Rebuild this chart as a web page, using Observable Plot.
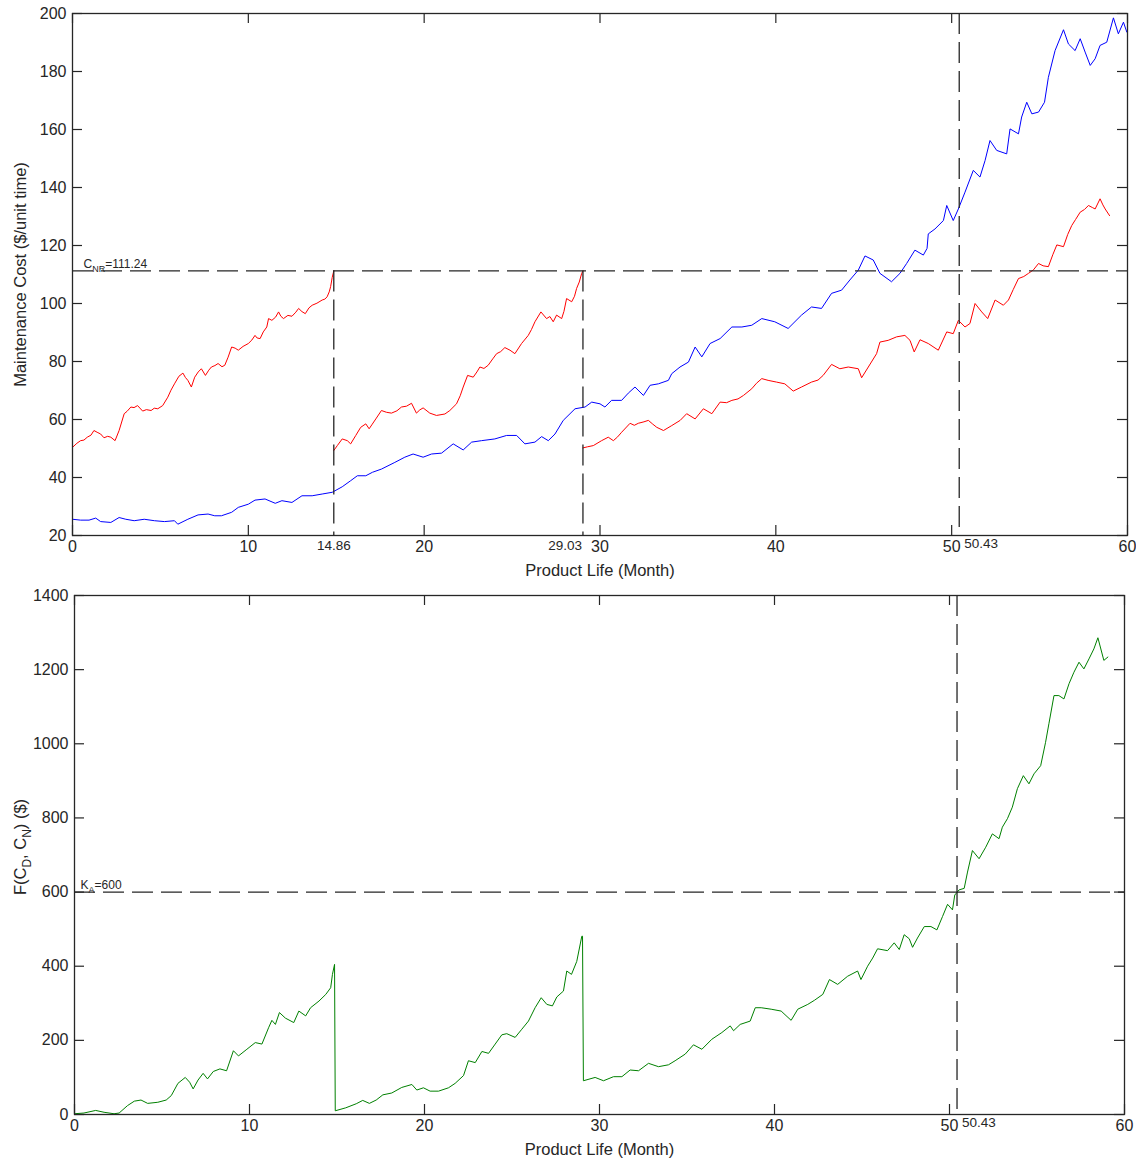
<!DOCTYPE html>
<html>
<head>
<meta charset="utf-8">
<script src="https://cdn.jsdelivr.net/npm/d3@7"></script>
<script src="https://cdn.jsdelivr.net/npm/@observablehq/plot@0.6"></script>
<style>
  html, body { margin: 0; padding: 0; background: #fff; }
  #chart svg { display: block; }
</style>
</head>
<body>
<div id="chart"></div>
<script>
// ---------- data ----------
const xTicks = [0, 10, 20, 30, 40, 50, 60];
const costTicks = [20, 40, 60, 80, 100, 120, 140, 160, 180, 200];
const fTicks = [0, 200, 400, 600, 800, 1000, 1200, 1400];
const renewalMonths = [14.86, 29.03];
const stopMonth = 50.43;
const costThreshold = 111.24;
const kA = 600;
const xLabel = "Product Life (Month)";
const costLabel = "Maintenance Cost ($/unit time)";
const fLabel = "F(C_D, C_N) ($)";
const cLabel = "C_NR=111.24";
const kLabel = "K_A=600";

// red: cost of the current (renewed) unit, three segments
const redSeg1 = [[0,50.4],[0.25,51.8],[0.46,52.7],[0.65,52.9],[0.84,53.9],[1.05,54.6],[1.22,56.2],[1.4,55.6],[1.6,55.0],[1.79,53.7],[2.0,54.2],[2.18,53.9],[2.42,52.7],[2.65,56.2],[2.94,62.0],[3.1,62.8],[3.32,64.3],[3.5,64.1],[3.7,64.8],[3.99,62.9],[4.2,63.4],[4.47,63.1],[4.65,63.9],[4.85,63.7],[5.13,64.8],[5.42,67.7],[5.6,70.1],[5.8,72.3],[6.05,74.9],[6.28,76.0],[6.42,74.5],[6.56,73.5],[6.76,71.2],[6.95,74.6],[7.15,76.4],[7.33,77.5],[7.56,75.2],[7.75,77.0],[7.9,78.1],[8.1,78.6],[8.28,79.3],[8.5,78.2],[8.66,78.7],[8.85,81.5],[9.05,85.0],[9.25,84.6],[9.43,83.9],[9.7,85.2],[10.0,86.2],[10.2,87.4],[10.38,89.0],[10.5,88.1],[10.67,87.9],[10.85,90.2],[11.05,91.9],[11.15,94.8],[11.34,94.2],[11.55,95.3],[11.72,97.1],[11.85,95.6],[12.0,94.8],[12.25,95.9],[12.48,95.6],[12.7,97.0],[12.86,98.3],[13.05,97.2],[13.24,96.5],[13.45,98.5],[13.63,99.4],[13.9,100.1],[14.2,101.2],[14.35,101.5],[14.48,102.3],[14.6,104.0],[14.68,105.8],[14.77,109.0],[14.86,111.24]];
const redSeg2 = [[14.86,49.3],[15.06,51.0],[15.34,53.3],[15.63,52.7],[15.82,51.6],[16.11,54.5],[16.39,57.3],[16.68,58.5],[16.87,56.8],[17.05,58.4],[17.25,60.2],[17.57,63.1],[17.85,62.5],[18.14,62.2],[18.45,63.0],[18.71,64.3],[19.0,64.6],[19.28,65.6],[19.56,62.2],[19.75,63.3],[19.94,64.0],[20.32,62.2],[20.7,61.4],[21.18,61.9],[21.46,63.1],[21.84,65.4],[22.05,68.2],[22.22,71.2],[22.47,75.2],[22.79,74.6],[23.0,76.4],[23.17,78.1],[23.4,77.6],[23.64,78.7],[23.9,80.9],[24.12,82.7],[24.35,83.4],[24.59,84.8],[24.88,83.9],[25.16,82.7],[25.54,86.2],[25.92,89.0],[26.1,91.0],[26.3,93.7],[26.64,97.1],[26.96,94.8],[27.15,95.5],[27.34,93.7],[27.53,96.0],[27.82,94.8],[27.95,97.3],[28.1,101.7],[28.39,100.6],[28.55,102.5],[28.67,105.2],[28.82,107.4],[28.96,110.4],[29.03,111.24]];
const redSeg3 = [[29.03,50.2],[29.3,50.6],[29.62,51.0],[30.09,52.7],[30.47,53.9],[30.76,52.7],[31.0,54.0],[31.23,55.6],[31.71,58.7],[31.95,58.0],[32.18,58.7],[32.5,59.2],[32.75,59.7],[33.0,58.4],[33.23,57.3],[33.61,56.2],[34.08,57.9],[34.56,59.7],[34.93,62.0],[35.41,60.2],[35.88,63.7],[36.36,62.0],[36.83,66.0],[37.2,65.8],[37.5,66.6],[37.85,67.1],[38.16,68.3],[38.63,70.6],[38.9,72.5],[39.2,74.1],[39.56,73.5],[40.04,72.9],[40.51,72.3],[40.99,69.8],[41.46,71.2],[42.03,72.9],[42.4,73.6],[42.69,75.2],[43.17,79.0],[43.64,77.5],[44.12,78.1],[44.69,77.5],[44.88,74.4],[45.26,78.1],[45.73,82.7],[45.92,86.7],[46.39,87.3],[46.87,88.5],[47.34,89.0],[47.63,87.3],[47.87,83.3],[48.2,87.5],[48.67,86.2],[49.24,83.9],[49.72,90.2],[50.09,89.6],[50.38,94.2],[50.76,91.9],[51.04,93.1],[51.33,100.0],[51.71,97.1],[52.05,94.8],[52.47,101.2],[52.94,99.4],[53.23,101.2],[53.5,104.8],[53.8,108.6],[54.1,109.3],[54.37,110.4],[54.65,111.6],[54.94,113.8],[55.2,113.0],[55.5,112.7],[55.75,116.8],[55.98,120.2],[56.36,119.6],[56.6,123.8],[56.83,126.9],[57.05,129.0],[57.31,131.5],[57.55,132.4],[57.78,133.8],[58.0,133.1],[58.16,132.6],[58.44,136.1],[58.6,134.0],[58.73,132.6],[58.98,130.3]];

// blue: cost without renewal
const blueCost = [[0,25.6],[0.46,25.3],[0.94,25.3],[1.32,26.0],[1.6,24.8],[2.18,24.5],[2.65,26.2],[3.03,25.6],[3.51,25.1],[4.08,25.6],[4.66,25.1],[5.23,24.8],[5.8,25.1],[5.99,23.9],[6.56,25.6],[7.14,27.1],[7.71,27.4],[8.09,26.8],[8.47,26.8],[9.05,28.0],[9.43,29.7],[10.0,30.8],[10.38,32.2],[10.95,32.6],[11.53,31.1],[11.91,32.0],[12.48,31.4],[13.05,33.7],[13.63,33.7],[14.2,34.3],[14.77,34.9],[15.34,36.8],[15.82,38.9],[16.2,40.6],[16.68,40.6],[17.06,41.8],[17.57,42.9],[18.33,45.2],[18.9,47.0],[19.37,48.1],[19.94,47.0],[20.42,48.1],[20.99,48.4],[21.65,51.6],[22.22,49.5],[22.7,52.2],[23.26,52.7],[24.02,53.3],[24.69,54.5],[25.26,54.5],[25.73,51.6],[26.3,52.2],[26.68,54.1],[27.06,52.7],[27.44,55.0],[27.91,59.7],[28.58,63.7],[29.15,64.3],[29.53,66.0],[30.0,65.4],[30.28,64.3],[30.66,66.6],[31.23,66.6],[31.61,69.1],[31.99,71.2],[32.47,68.3],[32.85,71.8],[33.32,72.3],[33.89,73.5],[34.08,75.8],[34.55,78.1],[35.03,79.8],[35.41,85.0],[35.79,81.6],[36.26,86.2],[36.83,87.9],[37.5,91.9],[38.07,91.9],[38.63,92.5],[39.2,94.8],[39.94,93.7],[40.7,91.4],[41.46,96.0],[42.03,98.8],[42.6,98.3],[43.17,103.5],[43.74,104.6],[44.21,108.1],[44.69,111.5],[45.07,116.4],[45.54,115.0],[45.92,110.4],[46.58,107.5],[47.06,110.4],[47.44,113.8],[47.91,118.4],[48.39,116.7],[48.6,119.0],[48.67,124.0],[49.05,125.7],[49.53,128.6],[49.72,133.8],[50.09,128.6],[50.38,132.6],[50.76,138.4],[51.23,145.9],[51.61,143.6],[51.9,149.3],[52.18,156.2],[52.56,152.8],[53.13,151.6],[53.32,160.2],[53.8,158.5],[53.98,164.3],[54.27,169.4],[54.56,165.4],[54.94,166.0],[55.28,169.4],[55.5,178.0],[55.88,187.2],[56.36,194.4],[56.64,189.5],[57.02,187.2],[57.31,191.3],[57.59,186.7],[57.88,182.1],[58.16,184.4],[58.44,189.0],[58.82,190.1],[59.2,198.5],[59.48,193.0],[59.77,197.0],[59.96,193.6]];

// green: F(C_D, C_N)
const greenF = [[0,2],[0.54,4],[1.21,11],[1.69,6],[2.26,2],[2.55,4],[3.03,24],[3.42,36],[3.8,39],[4.18,30],[4.76,33],[5.24,39],[5.53,51],[5.91,84],[6.33,100],[6.58,87],[6.78,69],[7.06,93],[7.35,111],[7.6,96],[7.93,116],[8.31,123],[8.69,118],[9.08,172],[9.37,158],[9.85,176],[10.33,194],[10.71,190],[11.09,234],[11.28,254],[11.48,243],[11.71,275],[12.05,260],[12.53,248],[12.82,279],[13.21,266],[13.49,288],[13.97,306],[14.36,324],[14.64,342],[14.74,378],[14.86,405],[14.9,10],[15.5,18],[16.1,29],[16.47,38],[16.85,30],[17.24,39],[17.62,53],[18.13,58],[18.7,73],[19.28,81],[19.56,66],[19.94,72],[20.32,63],[20.8,63],[21.37,72],[21.75,84],[22.23,105],[22.51,145],[22.9,140],[23.28,170],[23.66,165],[24.04,190],[24.42,215],[24.7,218],[25.18,208],[25.56,230],[25.94,252],[26.32,288],[26.67,315],[26.99,297],[27.31,293],[27.56,317],[27.94,333],[28.13,387],[28.4,378],[28.7,413],[28.99,481],[29.03,481],[29.08,91],[29.75,100],[30.23,91],[30.8,102],[31.28,102],[31.75,120],[32.23,118],[32.8,138],[33.37,129],[33.94,134],[34.32,145],[34.9,163],[35.37,188],[35.85,176],[36.42,203],[36.99,221],[37.47,239],[37.66,226],[38.04,243],[38.61,252],[38.9,288],[39.24,288],[39.81,284],[40.38,279],[40.95,254],[41.33,284],[41.9,297],[42.28,308],[42.76,324],[43.14,364],[43.61,351],[44.18,373],[44.75,387],[44.94,364],[45.32,400],[45.61,422],[45.89,447],[46.46,442],[46.84,463],[47.13,445],[47.41,485],[47.7,474],[47.89,451],[48.17,476],[48.56,507],[48.94,507],[49.28,498],[49.6,534],[49.89,567],[50.17,552],[50.3,592],[50.55,606],[50.84,610],[51.03,654],[51.31,712],[51.69,690],[52.07,721],[52.45,757],[52.83,744],[53.02,775],[53.31,798],[53.59,829],[53.88,879],[54.22,914],[54.54,892],[54.83,919],[55.21,941],[55.49,1004],[55.68,1054],[55.97,1130],[56.25,1130],[56.54,1121],[56.83,1162],[57.11,1193],[57.4,1220],[57.68,1202],[57.97,1229],[58.25,1256],[58.48,1286],[58.82,1225],[59.05,1234]];

// ---------- helpers ----------
const FONT = "'Liberation Sans', Arial, Helvetica, sans-serif";
const INK = "#262626";
const DASH = "21,8";
const TICK = 10;
const fmt = d => String(d);

const redRows = [redSeg1, redSeg2, redSeg3].flatMap((seg, i) => seg.map(([m, v]) => ({month: m, value: v, seg: i})));
const blueRows = blueCost.map(([m, v]) => ({month: m, value: v}));
const greenRows = greenF.map(([m, v]) => ({month: m, value: v}));

function frameTicks(xt, yt, innerW, innerH) {
  return [
    Plot.tickX(xt, {x: d => d, insetTop: innerH - TICK, stroke: INK, strokeWidth: 1.2}),
    Plot.tickX(xt, {x: d => d, insetBottom: innerH - TICK, stroke: INK, strokeWidth: 1.2}),
    Plot.tickY(yt, {y: d => d, insetRight: innerW - TICK, stroke: INK, strokeWidth: 1.2}),
    Plot.tickY(yt, {y: d => d, insetLeft: innerW - TICK, stroke: INK, strokeWidth: 1.2})
  ];
}

function subscriptify(svg, raw, parts, fs) {
  d3.select(svg).selectAll("text").filter(function () { return this.textContent === raw; }).each(function () {
    const t = d3.select(this);
    t.text(null);
    const shift = Math.round(fs * 0.3);
    parts.forEach(([s, sub], i) => {
      const ts = t.append("tspan").text(s);
      if (sub) ts.attr("font-size", Math.round(fs * 0.72)).attr("dy", shift);
      else if (i > 0 && parts[i - 1][1]) ts.attr("dy", -shift);
    });
  });
}

// ---------- top panel ----------
const W = 1136;
const topM = {h: 580, l: 72, r: 9, t: 13, b: 45};
const topInnerW = W - topM.l - topM.r, topInnerH = topM.h - topM.t - topM.b;

const topPlot = Plot.plot({
  width: W, height: topM.h,
  marginLeft: topM.l, marginRight: topM.r, marginTop: topM.t, marginBottom: topM.b,
  x: {domain: [0, 60]},
  y: {domain: [20, 200]},
  style: {fontFamily: FONT, fontSize: "16px", color: INK, background: "#fff", overflow: "visible"},
  marks: [
    Plot.axisX(xTicks, {tickSize: 0, tickPadding: 5, tickFormat: fmt, label: null, fontSize: 16}),
    Plot.axisY(costTicks, {tickSize: 0, tickPadding: 6, tickFormat: fmt, label: null, fontSize: 16}),
    ...frameTicks(xTicks, costTicks, topInnerW, topInnerH),
    Plot.line(blueRows, {x: "month", y: "value", stroke: "#0000ff", strokeWidth: 1}),
    Plot.line(redRows, {x: "month", y: "value", z: "seg", stroke: "#ff0000", strokeWidth: 1}),
    Plot.ruleY([costThreshold], {stroke: INK, strokeWidth: 1.3, strokeDasharray: DASH}),
    Plot.ruleX(renewalMonths, {x: d => d, y1: costThreshold, y2: 20, stroke: INK, strokeWidth: 1.3, strokeDasharray: DASH}),
    Plot.ruleX([stopMonth], {x: d => d, stroke: INK, strokeWidth: 1.3, strokeDasharray: DASH}),
    Plot.frame({stroke: INK, strokeWidth: 1.3}),
    Plot.text([renewalMonths[0]], {x: d => d, text: d => d.toFixed(2), frameAnchor: "bottom", lineAnchor: "top", dy: 5, fontSize: 13.5, fill: INK}),
    Plot.text([renewalMonths[1]], {x: d => d, text: d => d.toFixed(2), frameAnchor: "bottom", lineAnchor: "top", dy: 5, dx: -1, textAnchor: "end", fontSize: 13.5, fill: INK}),
    Plot.text([stopMonth], {x: d => d, text: d => d.toFixed(2), frameAnchor: "bottom", lineAnchor: "top", dy: 3, dx: 5, textAnchor: "start", fontSize: 13.5, fill: INK}),
    Plot.text([{m: 0, v: costThreshold, s: cLabel}], {x: "m", y: "v", text: "s", dx: 11, dy: -3, textAnchor: "start", lineAnchor: "bottom", fontSize: 12, fill: INK}),
    Plot.text([xLabel], {text: d => d, frameAnchor: "bottom", textAnchor: "middle", lineAnchor: "top", dy: 29, fontSize: 16.5, fill: INK}),
    Plot.text([costLabel], {text: d => d, frameAnchor: "left", textAnchor: "middle", lineAnchor: "middle", rotate: -90, dx: -52, fontSize: 16.5, fill: INK})
  ]
});

// ---------- bottom panel ----------
const botM = {h: 582, l: 74, r: 12, t: 15, b: 48};
const botInnerW = W - botM.l - botM.r, botInnerH = botM.h - botM.t - botM.b;

const botPlot = Plot.plot({
  width: W, height: botM.h,
  marginLeft: botM.l, marginRight: botM.r, marginTop: botM.t, marginBottom: botM.b,
  x: {domain: [0, 60]},
  y: {domain: [0, 1400]},
  style: {fontFamily: FONT, fontSize: "16px", color: INK, background: "#fff", overflow: "visible"},
  marks: [
    Plot.axisX(xTicks, {tickSize: 0, tickPadding: 5, tickFormat: fmt, label: null, fontSize: 16}),
    Plot.axisY(fTicks, {tickSize: 0, tickPadding: 6, tickFormat: fmt, label: null, fontSize: 16}),
    ...frameTicks(xTicks, fTicks, botInnerW, botInnerH),
    Plot.line(greenRows, {x: "month", y: "value", stroke: "#008000", strokeWidth: 1}),
    Plot.ruleY([kA], {stroke: INK, strokeWidth: 1.3, strokeDasharray: DASH}),
    Plot.ruleX([stopMonth], {x: d => d, stroke: INK, strokeWidth: 1.3, strokeDasharray: DASH}),
    Plot.frame({stroke: INK, strokeWidth: 1.3}),
    Plot.text([stopMonth], {x: d => d, text: d => d.toFixed(2), frameAnchor: "bottom", lineAnchor: "top", dy: 3, dx: 5, textAnchor: "start", fontSize: 13.5, fill: INK}),
    Plot.text([{m: 0, v: kA, s: kLabel}], {x: "m", y: "v", text: "s", dx: 6, dy: -3, textAnchor: "start", lineAnchor: "bottom", fontSize: 12, fill: INK}),
    Plot.text([xLabel], {text: d => d, frameAnchor: "bottom", textAnchor: "middle", lineAnchor: "top", dy: 29, fontSize: 16.5, fill: INK}),
    Plot.text([fLabel], {text: d => d, frameAnchor: "left", textAnchor: "middle", lineAnchor: "middle", rotate: -90, dx: -54, dy: -8, fontSize: 16.5, fill: INK})
  ]
});

subscriptify(topPlot, cLabel, [["C", 0], ["NR", 1], ["=111.24", 0]], 12);
subscriptify(botPlot, kLabel, [["K", 0], ["A", 1], ["=600", 0]], 12);
subscriptify(botPlot, fLabel, [["F(C", 0], ["D", 1], [", C", 0], ["N", 1], [") ($)", 0]], 16.5);

const chart = document.getElementById("chart");
chart.appendChild(topPlot);
chart.appendChild(botPlot);
</script>
</body>
</html>
